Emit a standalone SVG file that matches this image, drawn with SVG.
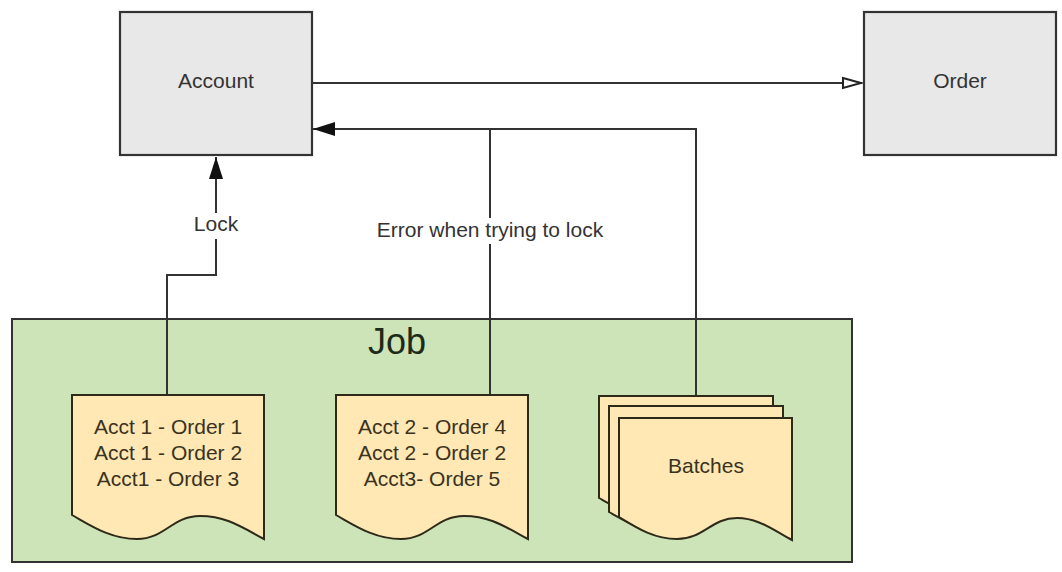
<svg xmlns="http://www.w3.org/2000/svg" width="1062" height="572" viewBox="0 0 1062 572">
<style>
.box{fill:#e8e8e8;stroke:#333;stroke-width:2.2}
.job{fill:#cde4b8;stroke:#333;stroke-width:2}
.doc{fill:#ffe8b4;stroke:#2e2a1a;stroke-width:2;stroke-linejoin:miter}
.t{font-family:"Liberation Sans",Arial,sans-serif;font-size:21px;fill:#333;text-anchor:middle}
.dt{font-family:"Liberation Sans",Arial,sans-serif;font-size:21px;fill:#3a3220;text-anchor:middle}
.conn{fill:none;stroke:#333;stroke-width:2}
</style>
<defs>
<marker id="filled" markerWidth="24" markerHeight="16" refX="22" refY="8" orient="auto" markerUnits="userSpaceOnUse">
<path d="M0,1 L22,8 L0,15 Z" fill="#111"/>
</marker>
<marker id="open" markerWidth="24" markerHeight="14" refX="21" refY="7" orient="auto" markerUnits="userSpaceOnUse">
<path d="M2,2 L20,7 L2,12 Z" fill="#fff" stroke="#222" stroke-width="2"/>
</marker>
</defs>
<rect width="1062" height="572" fill="#fff"/>
<g id="job">
<rect class="job" x="12" y="319" width="840" height="243"/>
<text x="397" y="354" font-family="Liberation Sans,Arial,sans-serif" font-size="36" fill="#1e2a18" text-anchor="middle">Job</text>
</g>
<g id="connectors">
<path class="conn" d="M312,83 H862" marker-end="url(#open)"/>
<path class="conn" d="M696,396 V129 H313" marker-end="url(#filled)"/>
<path class="conn" d="M490,395 V129"/>
<path class="conn" d="M167,396 V275 H216 V157" marker-end="url(#filled)"/>
<rect x="190" y="213" width="52" height="26" fill="#fff"/>
<text class="t" x="216" y="231">Lock</text>
<rect x="370" y="218" width="240" height="26" fill="#fff"/>
<text class="t" x="490" y="237">Error when trying to lock</text>
</g>
<g id="account">
<rect class="box" x="120" y="12" width="192" height="143"/>
<text class="t" x="216" y="88">Account</text>
</g>
<g id="order">
<rect class="box" x="864" y="12" width="192" height="143"/>
<text class="t" x="960" y="88">Order</text>
</g>
<g id="doc1">
<path class="doc" transform="translate(72,395)" d="M0,0 H192 V144 C168,131 153,121 128,121 C100,121 93,144 65,144 C38,144 18,130 0,120 Z"/>
<text class="dt" x="168" y="434">Acct 1 - Order 1</text>
<text class="dt" x="168" y="460">Acct 1 - Order 2</text>
<text class="dt" x="168" y="486">Acct1 - Order 3</text>
</g>
<g id="doc2">
<path class="doc" transform="translate(336,395)" d="M0,0 H192 V144 C168,131 153,121 128,121 C100,121 93,144 65,144 C38,144 18,130 0,120 Z"/>
<text class="dt" x="432" y="434">Acct 2 - Order 4</text>
<text class="dt" x="432" y="460">Acct 2 - Order 2</text>
<text class="dt" x="432" y="486">Acct3- Order 5</text>
</g>
<g id="batches">
<path class="doc" transform="translate(599,396)" d="M0,0 H174 V124 C152,112 139,102 119,102 C93,102 86,123 59,123 C36,123 18,112 0,102 Z"/>
<path class="doc" transform="translate(609,406)" d="M0,0 H174 V128 C152,116 139,106 119,106 C93,106 86,127 59,127 C36,127 18,116 0,106 Z"/>
<path class="doc" transform="translate(619,418)" d="M0,0 H173 V122 C151,110 138,100 118,100 C92,100 85,121 58,121 C35,121 18,110 0,99 Z"/>
<text class="dt" x="706" y="473">Batches</text>
</g>
</svg>
